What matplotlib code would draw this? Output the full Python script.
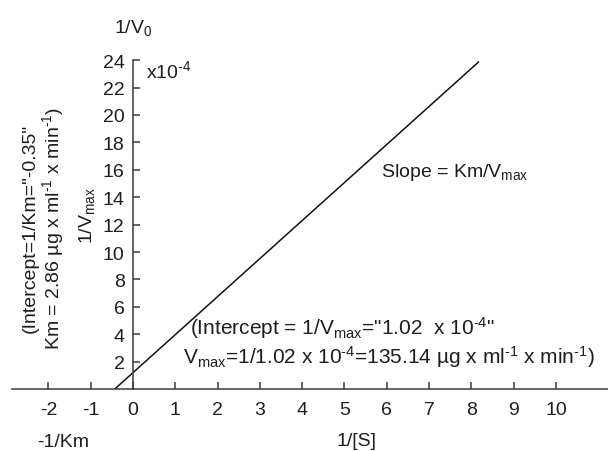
import matplotlib
matplotlib.use('Agg')
import matplotlib.pyplot as plt

plt.rcParams['font.family'] = ['Liberation Sans', 'DejaVu Sans']
plt.rcParams['mathtext.fontset'] = 'custom'
plt.rcParams['mathtext.rm'] = 'Liberation Sans'
plt.rcParams['mathtext.it'] = 'Liberation Sans'
plt.rcParams['mathtext.bf'] = 'Liberation Sans:bold'
plt.rcParams['axes.unicode_minus'] = False

# ---- data ----
x_ticks = [-2, -1, 0, 1, 2, 3, 4, 5, 6, 7, 8, 9, 10]
x_tick_labels = ['-2', '-1', '0', '1', '2', '3', '4', '5', '6', '7', '8', '9', '10']
y_ticks = [2, 4, 6, 8, 10, 12, 14, 16, 18, 20, 22, 24]
y_tick_labels = ['2', '4', '6', '8', '10', '12', '14', '16', '18', '20', '22', '24']
line_x = [-0.43, 8.18]
line_y = [0.0, 23.9]

# ---- layout ----
W, H = 608, 452
fig = plt.figure(figsize=(W / 100, H / 100), dpi=100)
ax = fig.add_axes([0, 0, 1, 1])
ax.patch.set_alpha(0)

px_x, x0 = 42.3, 133
px_y, y0 = 13.7, 390
ax.set_xlim(-x0 / px_x, (W - x0) / px_x)
ax.set_ylim(-(H - y0) / px_y, y0 / px_y)

axis_col = '#3a3a3a'
txt_col = '#1e1e1e'
for s in ['top', 'right']:
    ax.spines[s].set_visible(False)
ax.spines['left'].set_position(('data', 0))
ax.spines['bottom'].set_position(('data', 0))
ax.spines['left'].set_bounds(0, 24)
ax.spines['bottom'].set_bounds((12 - x0) / px_x, (W - x0) / px_x)
for s in ['left', 'bottom']:
    ax.spines[s].set_color(axis_col)
    ax.spines[s].set_linewidth(1.1)

ax.set_xticks(x_ticks)
ax.set_xticklabels(x_tick_labels)
ax.set_yticks(y_ticks)
ax.set_yticklabels(y_tick_labels)
ax.tick_params(direction='in', length=5, width=1.1, color=axis_col,
               labelsize=14, labelcolor=txt_col)
ax.tick_params(axis='x', pad=9)
ax.tick_params(axis='y', pad=6)

ax.plot(line_x, line_y, color='#111111', lw=1.1, solid_capstyle='butt')

def fx(p):
    return p / W

def fy(p):
    return 1 - p / H

fs = 14
hy = '\u2010'  # short hyphen for superscripts
fig.text(fx(133), fy(33), '1/V$_0$', ha='center', va='baseline', fontsize=fs, color=txt_col)
fig.text(fx(146), fy(78), 'x10$^{' + hy + '4}$', ha='left', va='baseline', fontsize=fs, color=txt_col)
fig.text(fx(44), fy(228),
         '(Intercept=1/Km="-0.35"\nKm = 2.86 µg x ml$^{' + hy + '1}$ x min$^{' + hy + '1}$)',
         rotation=90, ha='center', va='center', multialignment='center',
         linespacing=1.05, fontsize=fs, color=txt_col)
fig.text(fx(87), fy(215), '1/V$_{max}$', rotation=90, ha='center', va='center',
         fontsize=fs, color=txt_col)
fig.text(fx(381), fy(177), 'Slope = Km/V$_{max}$', ha='left', va='baseline',
         fontsize=fs, color=txt_col)
fig.text(fx(190), fy(335), '(Intercept = 1/V$_{max}$="1.02  x 10$^{' + hy + '4}$"',
         ha='left', va='baseline', fontsize=15, color=txt_col)
fig.text(fx(183), fy(364),
         'V$_{max}$=1/1.02 x 10$^{' + hy + '4}$=135.14 µg x ml$^{' + hy + '1}$ x min$^{' + hy + '1}$)',
         ha='left', va='baseline', fontsize=15, color=txt_col)
fig.text(fx(63), fy(443), '-1/Km', ha='center', va='center', fontsize=fs, color=txt_col)
fig.text(fx(357), fy(442), '1/[S]', ha='center', va='center', fontsize=fs, color=txt_col)

fig.savefig('out.png', dpi=100, facecolor='white')
